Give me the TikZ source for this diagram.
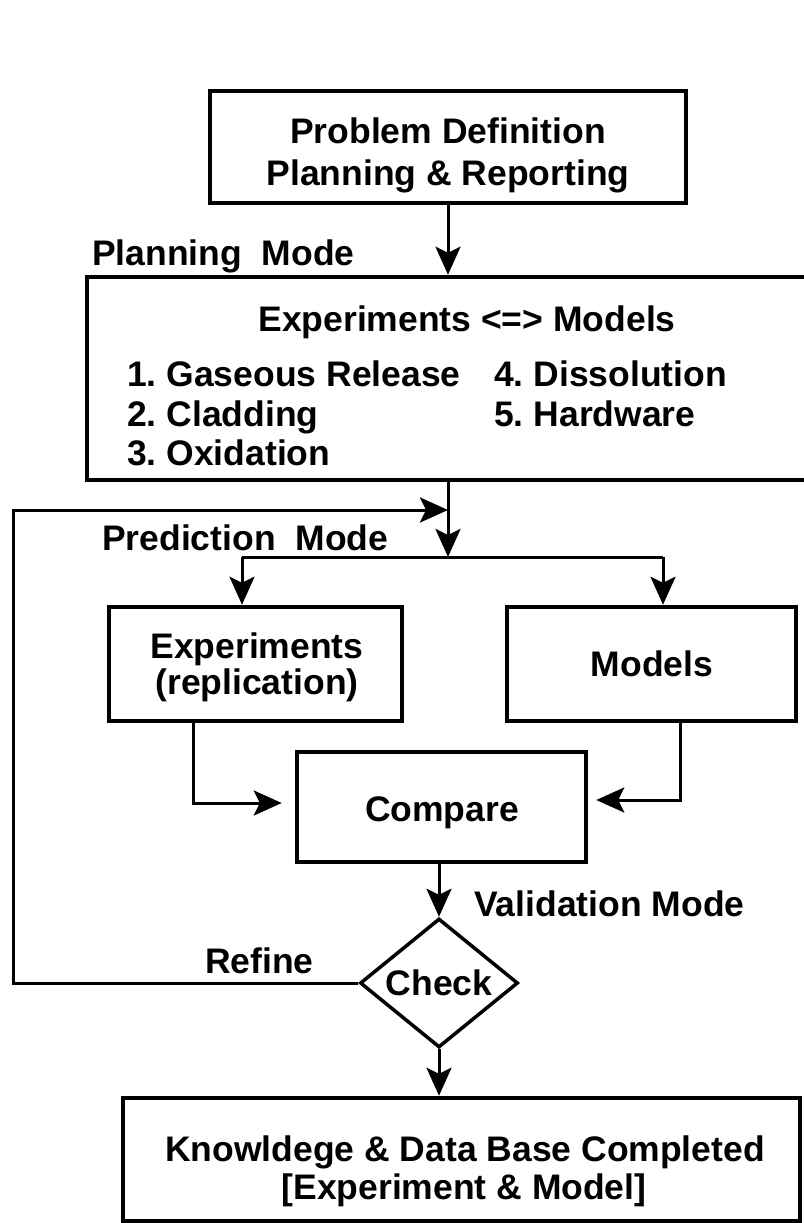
\documentclass[tikz,border=0pt]{standalone}
\usepackage{fontspec}
\setmainfont{Liberation Sans}
\usetikzlibrary{arrows.meta,shapes.geometric}
\frenchspacing
\begin{document}
\begin{tikzpicture}[x=1pt,y=-1pt,
  box/.style={draw,line width=4.5pt,inner sep=0pt},
  dia/.style={draw,diamond,line width=3.5pt,inner sep=0pt},
  txt/.style={font=\bfseries\fontsize{35.5}{42}\selectfont,inner sep=0pt,anchor=base},
  txtl/.style={txt,anchor=base west},
  conn/.style={line width=3pt},
  arr/.style={conn,-{Stealth[length=28pt,width=25pt,inset=6pt]}}]
\useasboundingbox (0,0) rectangle (803,1223);

% boxes
\node[box,minimum width=476pt,minimum height=112pt] (top) at (448,147) {};
\node[box,minimum width=719pt,minimum height=203pt] (plan) at (446.5,378.5) {};
\node[box,minimum width=293pt,minimum height=114pt] (exp) at (255.5,664) {};
\node[box,minimum width=289pt,minimum height=114pt] (mod) at (651.5,664) {};
\node[box,minimum width=289pt,minimum height=110pt] (cmp) at (441.5,807) {};
\node[dia,minimum width=158pt,minimum height=129pt] (chk) at (439,983) {};
\node[box,minimum width=677pt,minimum height=123pt] (fin) at (461.5,1159.5) {};

% texts
\node[txt] (t1) at (448,143) {Problem Definition};
\node[txt] (t2) at (448,185) {Planning \& Reporting};
\node[txtl] (lplan) at (92,265) {Planning\ \ Mode};
\node[txt] (pm) at (467,331) {Experiments <=> Models};
\node[txtl] (i1) at (127,386) {1. Gaseous Release};
\node[txtl] (i2) at (127,426) {2. Cladding};
\node[txtl] (i3) at (127,465) {3. Oxidation};
\node[txtl] (i4) at (494,386) {4. Dissolution};
\node[txtl] (i5) at (494,426) {5. Hardware};
\node[txtl] (lpred) at (102,550) {Prediction\ \ Mode};
\node[txt] (e1) at (257,658) {Experiments};
\node[txt] (e2) at (257,694) {(replication)};
\node[txt] (m1) at (652,676) {Models};
\node[txt] (c1) at (442,821) {Compare};
\node[txtl] (lval) at (474,916) {Validation Mode};
\node[txtl] (lref) at (205,973) {Refine};
\node[txt] (k1) at (439,995) {Check};
\node[txt] (f1) at (465,1161) {Knowldege \& Data Base Completed};
\node[txt] (f2) at (464,1199) {[Experiment \& Model]};

% junction coordinates
\coordinate (j) at (448,557);
\coordinate (jl) at (242,557);
\coordinate (jr) at (663,557);
\coordinate (fbE) at (448,510);
\coordinate (fbT) at (13,510);
\coordinate (fbB) at (13,983);
\coordinate (ea) at (193,803);
\coordinate (ma) at (680,800);

% connectors
\draw[arr] (top.south) -- (top.south |- plan.north);
\draw[arr] (plan.south -| j) -- (j);
\draw[conn] (jl) -- (jr);
\draw[arr] (jl) -- (jl |- exp.north);
\draw[arr] (jr) -- (jr |- mod.north);
\draw[arr] (chk.west) -- (fbB) -- (fbT) -- (fbE);
\draw[arr] (exp.south -| ea) -- (ea) -- ([xshift=-13pt]cmp.west |- ea);
\draw[arr] (mod.south -| ma) -- (ma) -- ([xshift=8pt]cmp.east |- ma);
\draw[arr] (cmp.south -| chk.north) -- (chk.north);
\draw[arr] (chk.south) -- (chk.south |- fin.north);
\end{tikzpicture}
\end{document}
